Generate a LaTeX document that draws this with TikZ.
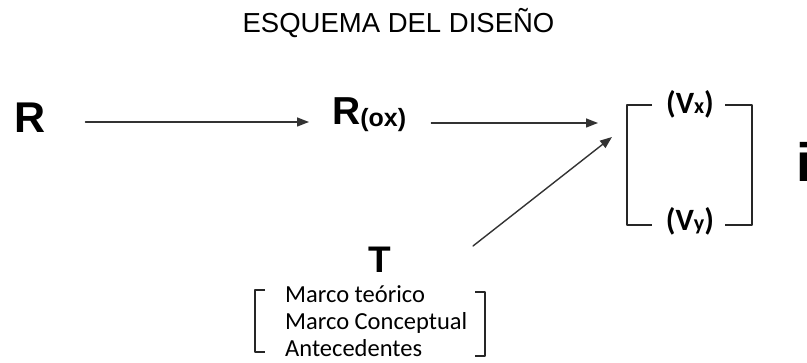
\documentclass[tikz,border=0pt]{standalone}
\usepackage{fontspec}
\setmainfont{Liberation Sans}
\newfontfamily\calibri{Carlito}
\usetikzlibrary{arrows.meta}
\begin{document}
\begin{tikzpicture}[x=1pt, y=-1pt, line join=round, line cap=round,
	flecha/.style={draw=black!80, line width=1.4pt, -{Triangle[length=12pt,width=9pt]}},
	corchete/.style={draw=black!85, line width=1.5pt, line cap=butt},
	lista/.style={inner sep=0pt, anchor=base west, font=\calibri\fontsize{24.5}{24.5}\selectfont}]
	\useasboundingbox (0,0) rectangle (807,363);
	\path
	(0,122) coordinate (fila)
	(598,123) coordinate (e2)
	(473,246) coordinate (t0)
	(612,137) coordinate (e3)
	;
	\node[anchor=base] (titulo) at (398.5,33) {\fontsize{27.5}{27.5}\selectfont ESQUEMA DEL DISEÑO};
	\node[anchor=base west, inner sep=0pt] (R) at (14,133) {\fontsize{43}{43}\selectfont\bfseries R};
	\node[anchor=base west, inner sep=0pt] (Rox) at (332,125) {\bfseries\fontsize{39}{39}\selectfont R\fontsize{25}{25}\selectfont\raisebox{-2pt}{(ox)}};
	\node[anchor=base, inner sep=0pt] (Vx) at (690,114) {\calibri\bfseries\fontsize{31}{31}\selectfont (V{\fontsize{22}{22}\selectfont x})};
	\node[anchor=base, inner sep=0pt] (Vy) at (690,231) {\calibri\bfseries\fontsize{31}{31}\selectfont (V{\fontsize{22}{22}\selectfont y})};
	\node[anchor=base west, inner sep=0pt] (i) at (796,182) {\fontsize{54}{54}\selectfont\bfseries i};
	\node[anchor=base, inner sep=0pt] (T) at (380,273) {\fontsize{37}{37}\selectfont\bfseries T};
	\foreach \t [count=\k] in {Marco teórico, Marco Conceptual, Antecedentes}
	\node[lista] (L\k) at (285,276+27*\k) {\t};
	% flechas
	\draw[flecha, shorten <=40pt, shorten >=23pt] (R.east |- fila) -- (Rox.west |- fila);
	\draw[flecha, shorten <=25pt] (Rox.east |- e2) -- (e2);
	\draw[flecha] (t0) -- (e3);
	% corchetes
	\draw[corchete] (652,105) -| (627,225) -- (652,225);
	\draw[corchete] (725,105) -| (752,225) -- (725,225);
	\draw[corchete] (265,290) -| (255,352) -- (265,352);
	\draw[corchete] (475,292) -| (485,356) -- (475,356);
\end{tikzpicture}
\end{document}
